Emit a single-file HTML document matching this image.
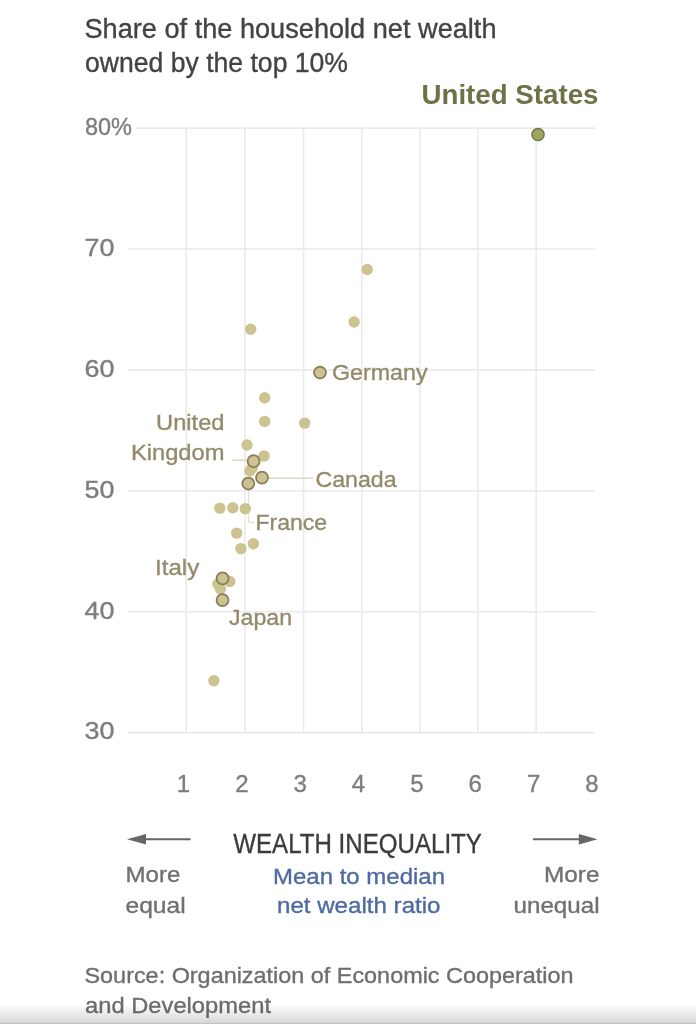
<!DOCTYPE html>
<html><head><meta charset="utf-8"><style>
html,body{margin:0;padding:0;background:#fff;width:696px;height:1024px;overflow:hidden}
svg{position:absolute;left:0;top:0;display:block;filter:blur(0.45px)}
text{font-family:"Liberation Sans",sans-serif}
.shade{position:absolute;left:0;top:1003px;width:696px;height:21px;background:linear-gradient(to bottom,rgba(0,0,0,0.000) 0.5px,rgba(0,0,0,0.012) 2.5px,rgba(0,0,0,0.055) 7.5px,rgba(0,0,0,0.102) 13.5px,rgba(0,0,0,0.145) 18.5px,rgba(0,0,0,0.165) 19.5px,rgba(0,0,0,0.235) 20.5px)}
</style></head><body>
<svg width="696" height="1024" viewBox="0 0 696 1024">
<line x1="136.4" y1="128.1" x2="594.8" y2="128.1" stroke="#eaeaea" stroke-width="1.6"/>
<line x1="127.8" y1="249.0" x2="594.8" y2="249.0" stroke="#eaeaea" stroke-width="1.6"/>
<line x1="127.8" y1="369.9" x2="594.8" y2="369.9" stroke="#eaeaea" stroke-width="1.6"/>
<line x1="127.8" y1="490.8" x2="594.8" y2="490.8" stroke="#eaeaea" stroke-width="1.6"/>
<line x1="127.8" y1="611.7" x2="594.8" y2="611.7" stroke="#eaeaea" stroke-width="1.6"/>
<line x1="127.8" y1="732.6" x2="594.8" y2="732.6" stroke="#eaeaea" stroke-width="1.6"/>
<line x1="186.2" y1="128.1" x2="186.2" y2="732.6" stroke="#eaeaea" stroke-width="1.6"/>
<line x1="244.9" y1="128.1" x2="244.9" y2="732.6" stroke="#eaeaea" stroke-width="1.6"/>
<line x1="303.5" y1="128.1" x2="303.5" y2="732.6" stroke="#eaeaea" stroke-width="1.6"/>
<line x1="361.8" y1="128.1" x2="361.8" y2="732.6" stroke="#eaeaea" stroke-width="1.6"/>
<line x1="419.9" y1="128.1" x2="419.9" y2="732.6" stroke="#eaeaea" stroke-width="1.6"/>
<line x1="478.0" y1="128.1" x2="478.0" y2="732.6" stroke="#eaeaea" stroke-width="1.6"/>
<line x1="536.2" y1="128.1" x2="536.2" y2="732.6" stroke="#eaeaea" stroke-width="1.6"/>
<polyline points="232,460.2 252,460.2" fill="none" stroke="#dcd8c8" stroke-width="1.5"/>
<polyline points="268,478.3 313,478.3" fill="none" stroke="#dcd8c8" stroke-width="1.5"/>
<polyline points="248.5,490 248.5,522.4 254,522.4" fill="none" stroke="#e4e1d4" stroke-width="1.2"/>
<circle cx="367.2" cy="269.5" r="5.7" fill="#cdc390"/>
<circle cx="354.1" cy="322" r="5.7" fill="#cdc390"/>
<circle cx="250.7" cy="329.3" r="5.7" fill="#cdc390"/>
<circle cx="264.7" cy="397.8" r="5.7" fill="#cdc390"/>
<circle cx="264.7" cy="421.4" r="5.7" fill="#cdc390"/>
<circle cx="304.7" cy="423.1" r="5.7" fill="#cdc390"/>
<circle cx="247.0" cy="445.0" r="5.7" fill="#cdc390"/>
<circle cx="264.1" cy="456.0" r="5.7" fill="#cdc390"/>
<circle cx="250.0" cy="471.0" r="5.7" fill="#cdc390"/>
<circle cx="252.3" cy="467.8" r="5.7" fill="#cdc390"/>
<circle cx="219.8" cy="508.1" r="5.7" fill="#cdc390"/>
<circle cx="232.8" cy="507.8" r="5.7" fill="#cdc390"/>
<circle cx="245.3" cy="508.6" r="5.7" fill="#cdc390"/>
<circle cx="236.7" cy="533.1" r="5.7" fill="#cdc390"/>
<circle cx="253.4" cy="543.8" r="5.7" fill="#cdc390"/>
<circle cx="240.9" cy="548.6" r="5.7" fill="#cdc390"/>
<circle cx="229.8" cy="581.5" r="5.7" fill="#cdc390"/>
<circle cx="217.8" cy="584.0" r="5.7" fill="#cdc390"/>
<circle cx="220.5" cy="589.0" r="5.7" fill="#cdc390"/>
<circle cx="213.9" cy="680.8" r="5.7" fill="#cdc390"/>
<circle cx="320" cy="372.5" r="6.0" fill="#cdc390" stroke="#877d5a" stroke-width="1.75"/>
<circle cx="253.6" cy="461.2" r="6.0" fill="#cdc390" stroke="#877d5a" stroke-width="1.75"/>
<circle cx="262" cy="477.7" r="6.0" fill="#cdc390" stroke="#877d5a" stroke-width="1.75"/>
<circle cx="248.3" cy="483.5" r="6.0" fill="#cdc390" stroke="#877d5a" stroke-width="1.75"/>
<circle cx="222.6" cy="578.4" r="6.0" fill="#cdc390" stroke="#877d5a" stroke-width="1.75"/>
<circle cx="222.5" cy="600.1" r="6.0" fill="#cdc390" stroke="#877d5a" stroke-width="1.75"/>
<circle cx="538" cy="134.5" r="6.1" fill="#a0a462" stroke="#737646" stroke-width="1.5"/>
<line x1="144" y1="839.2" x2="190.5" y2="839.2" stroke="#666" stroke-width="2"/>
<polygon points="127,839.2 146,834 146,844.4" fill="#666"/>
<line x1="533" y1="839.2" x2="580" y2="839.2" stroke="#666" stroke-width="2"/>
<polygon points="597.6,839.2 578.8,834 578.8,844.4" fill="#666"/>
<text x="84.5" y="38.0" font-size="27" fill="#434343" stroke="#434343" stroke-width="0.35" textLength="412" lengthAdjust="spacingAndGlyphs">Share of the household net wealth</text>
<text x="85" y="71.6" font-size="27" fill="#434343" stroke="#434343" stroke-width="0.35" textLength="263" lengthAdjust="spacingAndGlyphs">owned by the top 10%</text>
<text x="598.5" y="103.5" font-size="27" fill="#6f7247" font-weight="bold" text-anchor="end" textLength="177" lengthAdjust="spacingAndGlyphs">United States</text>
<text x="85" y="135.0" font-size="24" fill="#7d7d7d" stroke="#7d7d7d" stroke-width="0.35" textLength="47" lengthAdjust="spacingAndGlyphs">80%</text>
<text x="84.6" y="255.8" font-size="24" fill="#7d7d7d" stroke="#7d7d7d" stroke-width="0.35" textLength="30" lengthAdjust="spacingAndGlyphs">70</text>
<text x="84.6" y="376.70000000000005" font-size="24" fill="#7d7d7d" stroke="#7d7d7d" stroke-width="0.35" textLength="30" lengthAdjust="spacingAndGlyphs">60</text>
<text x="84.6" y="497.6" font-size="24" fill="#7d7d7d" stroke="#7d7d7d" stroke-width="0.35" textLength="30" lengthAdjust="spacingAndGlyphs">50</text>
<text x="84.6" y="618.5" font-size="24" fill="#7d7d7d" stroke="#7d7d7d" stroke-width="0.35" textLength="30" lengthAdjust="spacingAndGlyphs">40</text>
<text x="84.6" y="739.4" font-size="24" fill="#7d7d7d" stroke="#7d7d7d" stroke-width="0.35" textLength="30" lengthAdjust="spacingAndGlyphs">30</text>
<text x="183.5" y="791.6" font-size="24" fill="#7d7d7d" stroke="#7d7d7d" stroke-width="0.35" text-anchor="middle">1</text>
<text x="241.85" y="791.6" font-size="24" fill="#7d7d7d" stroke="#7d7d7d" stroke-width="0.35" text-anchor="middle">2</text>
<text x="300.2" y="791.6" font-size="24" fill="#7d7d7d" stroke="#7d7d7d" stroke-width="0.35" text-anchor="middle">3</text>
<text x="358.55" y="791.6" font-size="24" fill="#7d7d7d" stroke="#7d7d7d" stroke-width="0.35" text-anchor="middle">4</text>
<text x="416.90000000000003" y="791.6" font-size="24" fill="#7d7d7d" stroke="#7d7d7d" stroke-width="0.35" text-anchor="middle">5</text>
<text x="475.25" y="791.6" font-size="24" fill="#7d7d7d" stroke="#7d7d7d" stroke-width="0.35" text-anchor="middle">6</text>
<text x="533.5999999999999" y="791.6" font-size="24" fill="#7d7d7d" stroke="#7d7d7d" stroke-width="0.35" text-anchor="middle">7</text>
<text x="591.9499999999999" y="791.6" font-size="24" fill="#7d7d7d" stroke="#7d7d7d" stroke-width="0.35" text-anchor="middle">8</text>
<text x="224.5" y="429.8" font-size="22.9" fill="#948a6b" stroke="#948a6b" stroke-width="0.35" text-anchor="end" textLength="68.4" lengthAdjust="spacingAndGlyphs">United</text>
<text x="224.5" y="460.0" font-size="22.9" fill="#948a6b" stroke="#948a6b" stroke-width="0.35" text-anchor="end" textLength="93.6" lengthAdjust="spacingAndGlyphs">Kingdom</text>
<text x="332" y="379.5" font-size="22.9" fill="#948a6b" stroke="#948a6b" stroke-width="0.35" textLength="95.5" lengthAdjust="spacingAndGlyphs">Germany</text>
<text x="315.5" y="487.2" font-size="22.9" fill="#948a6b" stroke="#948a6b" stroke-width="0.35" textLength="81.1" lengthAdjust="spacingAndGlyphs">Canada</text>
<text x="255.5" y="529.9" font-size="22.9" fill="#948a6b" stroke="#948a6b" stroke-width="0.35" textLength="71.5" lengthAdjust="spacingAndGlyphs">France</text>
<text x="155" y="574.6" font-size="22.9" fill="#948a6b" stroke="#948a6b" stroke-width="0.35" textLength="44.3" lengthAdjust="spacingAndGlyphs">Italy</text>
<text x="229" y="625.2" font-size="22.9" fill="#948a6b" stroke="#948a6b" stroke-width="0.35" textLength="63" lengthAdjust="spacingAndGlyphs">Japan</text>
<text x="233.3" y="852.7" font-size="27" fill="#3c3c3c" stroke="#3c3c3c" stroke-width="0.35" textLength="248.6" lengthAdjust="spacingAndGlyphs">WEALTH INEQUALITY</text>
<text x="273" y="883.9" font-size="22" fill="#4f6aa3" stroke="#4f6aa3" stroke-width="0.35" textLength="172" lengthAdjust="spacingAndGlyphs">Mean to median</text>
<text x="277" y="913.0" font-size="22" fill="#4f6aa3" stroke="#4f6aa3" stroke-width="0.35" textLength="163.5" lengthAdjust="spacingAndGlyphs">net wealth ratio</text>
<text x="125.5" y="881.6" font-size="22.3" fill="#707070" stroke="#707070" stroke-width="0.35" textLength="54.9" lengthAdjust="spacingAndGlyphs">More</text>
<text x="125.5" y="912.6" font-size="22.3" fill="#707070" stroke="#707070" stroke-width="0.35" textLength="60.2" lengthAdjust="spacingAndGlyphs">equal</text>
<text x="599.5" y="881.6" font-size="22.3" fill="#707070" stroke="#707070" stroke-width="0.35" text-anchor="end" textLength="55.4" lengthAdjust="spacingAndGlyphs">More</text>
<text x="599.5" y="912.6" font-size="22.3" fill="#707070" stroke="#707070" stroke-width="0.35" text-anchor="end" textLength="86" lengthAdjust="spacingAndGlyphs">unequal</text>
<text x="84.5" y="982.6" font-size="22" fill="#6e6e6e" stroke="#6e6e6e" stroke-width="0.35" textLength="489" lengthAdjust="spacingAndGlyphs">Source: Organization of Economic Cooperation</text>
<text x="85" y="1012.6" font-size="22" fill="#6e6e6e" stroke="#6e6e6e" stroke-width="0.35" textLength="186" lengthAdjust="spacingAndGlyphs">and Development</text>
</svg>
<div class="shade"></div>
</body></html>
